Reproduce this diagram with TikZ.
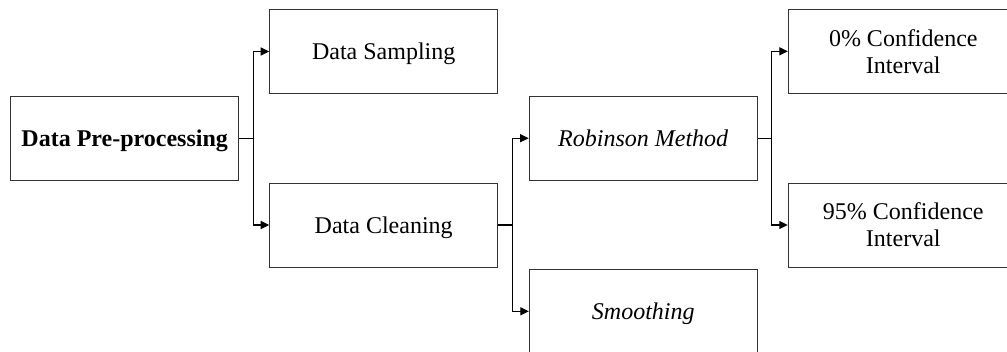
\documentclass[tikz,border=0pt]{standalone}
\usepackage{fontspec}
\setmainfont{Liberation Serif}
\usetikzlibrary{arrows.meta}
\begin{document}
\begin{tikzpicture}[x=1pt,y=-1pt,
  box/.style={draw=black!80,line width=1pt,minimum width=228pt,minimum height=84pt,inner sep=0pt,align=center,text depth=0pt,font=\fontsize{24}{27}\selectfont},
  arr/.style={draw=black,line width=1.2pt,-{Triangle[length=8.5pt,width=8pt]}}]
\useasboundingbox (0,0) rectangle (1007,351);
\clip (0,0) rectangle (1007,351);
\node[box] (pre) at (124.7,138.3) {\textbf{Data Pre-processing}};
\node[box] (samp) at (383.7,51.5) {Data Sampling};
\node[box] (clean) at (383.7,225) {Data Cleaning};
\node[box] (rob) at (643.2,138.2) {\textit{Robinson Method}};
\node[box] (smooth) at (643.3,311.3) {\textit{Smoothing}};
\node[box,minimum width=230pt] (ci0) at (903.3,51.3) {0\% Confidence\\Interval};
\node[box,minimum width=230pt] (ci95) at (903.3,225) {95\% Confidence\\Interval};
\draw[arr] (pre.east) -- ++(14,0) |- (samp.west);
\draw[arr] (pre.east) -- ++(14,0) |- (clean.west);
\draw[arr] (clean.east) -- ++(14,0) |- (rob.west);
\draw[arr] (clean.east) -- ++(14,0) |- (smooth.west);
\draw[arr] (rob.east) -- ++(14,0) |- (ci0.west);
\draw[arr] (rob.east) -- ++(14,0) |- (ci95.west);
\end{tikzpicture}
\end{document}
